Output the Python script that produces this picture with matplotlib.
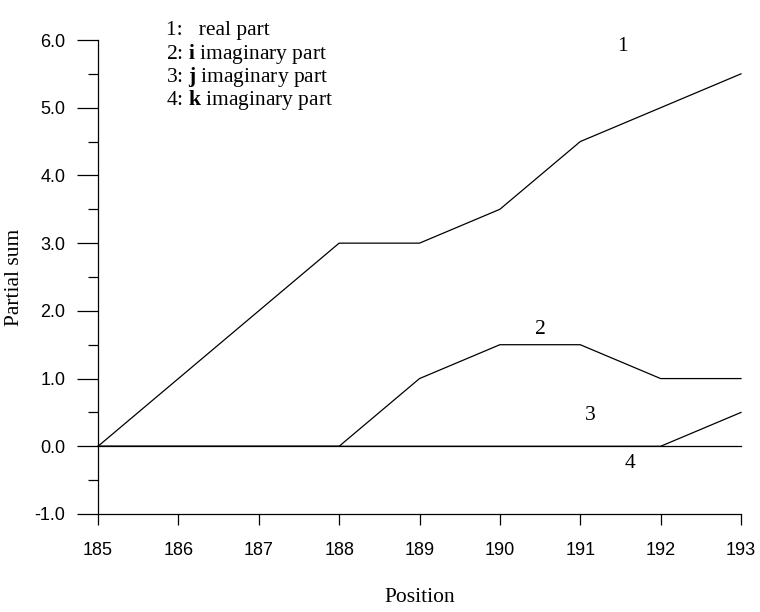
import numpy as np
import matplotlib.pyplot as plt

positions = [185, 186, 187, 188, 189, 190, 191, 192, 193]
real_part = [0, 1, 2, 3, 3, 3.5, 4.5, 5, 5.5]
i_part = [0, 0, 0, 0, 1, 1.5, 1.5, 1, 1]
j_part = [0, 0, 0, 0, 0, 0, 0, 0, 0.5]
k_part = [0, 0, 0, 0, 0, 0, 0, 0, 0]

legend_lines = ["1:   real part",
                r"2: $\mathbf{i}$ imaginary part",
                r"3: $\mathbf{j}$ imaginary part",
                r"4: $\mathbf{k}$ imaginary part"]
curve_labels = ["1", "2", "3", "4"]
label_pos = [(191.52, 5.91), (190.51, 1.73), (191.12, 0.46), (191.62, -0.25)]

plt.rcParams['font.family'] = 'Liberation Serif'
plt.rcParams['mathtext.fontset'] = 'custom'
plt.rcParams['mathtext.rm'] = 'Liberation Serif'
plt.rcParams['mathtext.bf'] = 'Liberation Serif:bold'

fig = plt.figure(figsize=(7.6, 6.12), dpi=100)
ax = fig.add_axes([98 / 760, 98 / 612, 643 / 760, 474 / 612])

for ys in [real_part, i_part, j_part, k_part]:
    ax.plot(positions, ys, color='black', lw=0.9, clip_on=False)

ax.set_xlim(185, 193)
ax.set_ylim(-1, 6)
ax.spines['top'].set_visible(False)
ax.spines['right'].set_visible(False)
for s in ['left', 'bottom']:
    ax.spines[s].set_linewidth(0.9)

ax.set_xticks(positions)
ax.set_yticks(np.arange(-1, 7))
ax.set_yticks(np.arange(-0.5, 6, 1), minor=True)
ax.set_yticklabels([f"{v:.1f}" for v in np.arange(-1, 7)])
ax.tick_params(axis='y', which='major', length=15, width=0.9, pad=8.6)
ax.tick_params(axis='y', which='minor', length=7.5, width=0.9)
ax.tick_params(axis='x', which='major', length=8, width=0.9, pad=12)
for lab in ax.get_xticklabels() + ax.get_yticklabels():
    lab.set_family('Liberation Sans')
    lab.set_fontsize(13)

ax.set_xlabel("Position", fontsize=15.5, va='center')
ax.xaxis.set_label_coords(0.5, (514 - 597) / 474)
ax.set_ylabel("Partial sum", fontsize=15.5, va='center')
ax.yaxis.set_label_coords((15 - 98) / 643, 0.5)

for k, line in enumerate(legend_lines):
    ax.text(185.85, 6.14 - k * 0.34, line, fontsize=15.5, va='center', ha='left')

for lbl, (x, y) in zip(curve_labels, label_pos):
    ax.text(x, y, lbl, fontsize=15.5, ha='center', va='center')

fig.savefig("out.png", dpi=100)
